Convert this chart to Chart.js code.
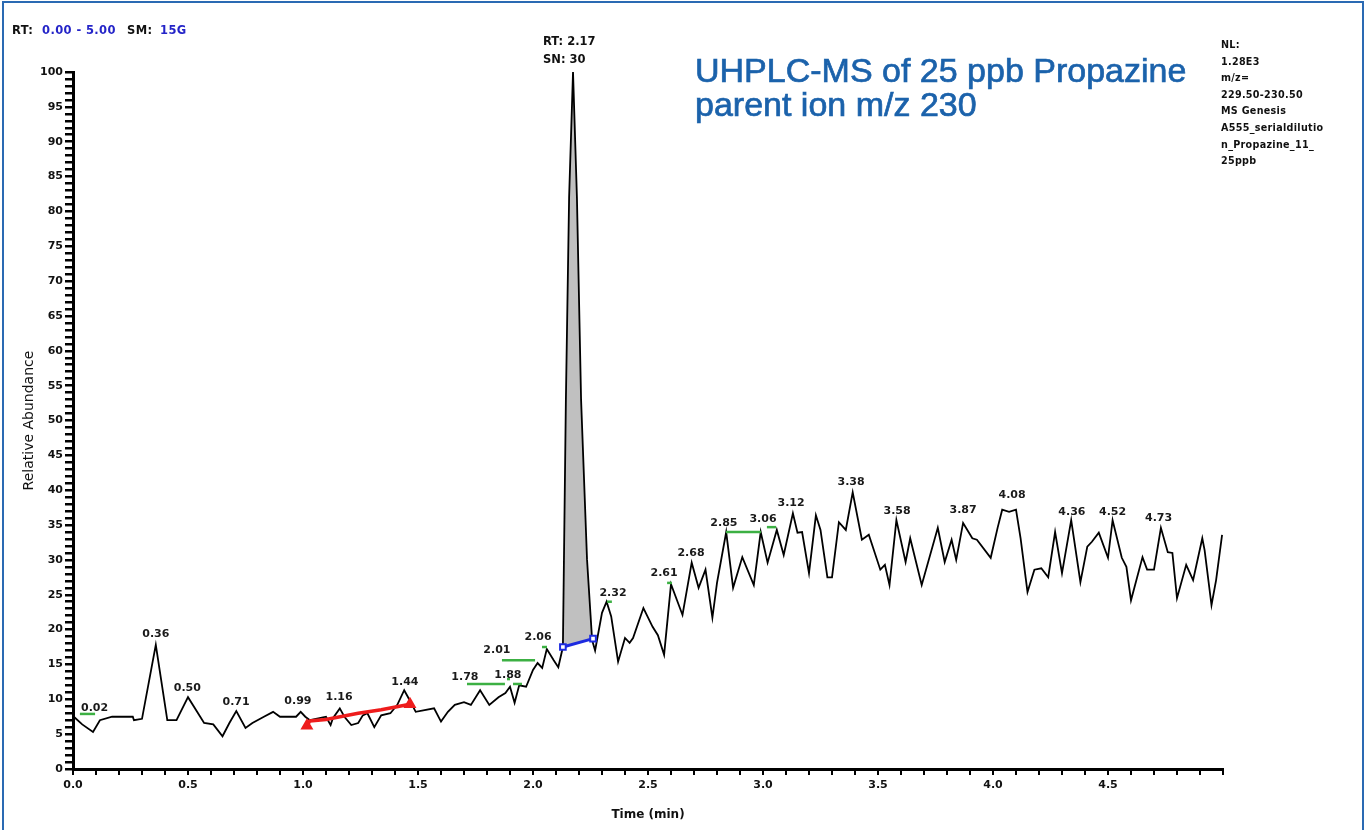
<!DOCTYPE html>
<html lang="en">
<head>
<meta charset="UTF-8">
<title>UHPLC-MS Propazine</title>
<script src="https://cdn.jsdelivr.net/npm/chart.js@4.4.0/dist/chart.umd.min.js"></script>
<style>
  body { margin: 0; background: #fff; }
  #wrap { position: relative; width: 1366px; height: 830px; overflow: hidden; background: #fff; }
  #frame { position: absolute; left: 2px; top: 1px; width: 1358px; height: 860px; border: 2px solid #2a6ab3; }
  .txt { position: absolute; font-family: "DejaVu Sans"; font-weight: bold; font-size: 10px; color: #111; white-space: nowrap; }
  .blu { color: #2424c8; }
  .hdr { top: 23px; font-size: 11.5px; letter-spacing: 0.4px; }
  #nl { left: 1221px; top: 37px; font-size: 9.6px; letter-spacing: 0.3px; line-height: 16.6px; }
  #rt { left: 543px; top: 32px; font-size: 11.5px; line-height: 18px; }
  #title { position: absolute; left: 695px; top: 53px; font-family: "Liberation Sans"; font-size: 34px; line-height: 34px;
           color: #1b62ab; -webkit-text-stroke: 0.7px #1b62ab; white-space: nowrap; }
  canvas { position: absolute; left: 0; top: 0; }
</style>
</head>
<body>
<div id="wrap">
  <canvas id="chart" width="1366" height="830"></canvas>
  <div id="frame"></div>
  <div class="txt hdr" style="left:12px">RT:</div>
  <div class="txt hdr blu" style="left:42px">0.00 - 5.00</div>
  <div class="txt hdr" style="left:127px">SM:</div>
  <div class="txt hdr blu" style="left:160px">15G</div>
  <div class="txt" id="rt">RT: 2.17<br>SN: 30</div>
  <div class="txt" id="nl">NL:<br>1.28E3<br>m/z=<br>229.50-230.50<br>MS Genesis<br>A555_serialdilutio<br>n_Propazine_11_<br>25ppb</div>
  <div id="title">UHPLC-MS of 25 ppb Propazine<br>parent ion m/z 230</div>
</div>

<script>
// ion trace, time (min) / relative abundance
const traceTime = [
  0.00, 0.04, 0.087, 0.117, 0.17, 0.26, 0.265, 0.30, 0.36, 0.41,
  0.45, 0.50, 0.57, 0.61, 0.65, 0.68, 0.71, 0.75, 0.78, 0.83,
  0.87, 0.90, 0.97, 0.99, 1.01, 1.03, 1.10, 1.12, 1.13, 1.16,
  1.18, 1.21, 1.24, 1.26, 1.28, 1.31, 1.34, 1.38, 1.41, 1.44,
  1.47, 1.49, 1.57, 1.60, 1.63, 1.66, 1.70, 1.73, 1.77, 1.81,
  1.85, 1.88, 1.90, 1.92, 1.94, 1.97, 2.00, 2.02, 2.04, 2.06,
  2.09, 2.11, 2.13, 2.143, 2.157, 2.174, 2.191, 2.209, 2.235, 2.257,
  2.27, 2.30, 2.32, 2.34, 2.37, 2.40, 2.42, 2.435, 2.48, 2.52,
  2.543, 2.57, 2.60, 2.65, 2.69, 2.72, 2.75, 2.78, 2.80, 2.84,
  2.87, 2.91, 2.96, 2.99, 3.02, 3.06, 3.09, 3.13, 3.15, 3.17,
  3.20, 3.23, 3.25, 3.28, 3.30, 3.33, 3.36, 3.39, 3.43, 3.46,
  3.51, 3.53, 3.55, 3.58, 3.62, 3.64, 3.69, 3.76, 3.79, 3.82,
  3.84, 3.87, 3.91, 3.93, 3.99, 4.02, 4.04, 4.07, 4.10, 4.12,
  4.15, 4.18, 4.21, 4.24, 4.27, 4.30, 4.34, 4.38, 4.41, 4.43,
  4.46, 4.50, 4.52, 4.56, 4.58, 4.60, 4.65, 4.67, 4.70, 4.73,
  4.76, 4.78, 4.80, 4.84, 4.87, 4.91, 4.92, 4.95, 4.97, 4.996
];
const traceAbund = [
  7.6, 6.4, 5.3, 7.0, 7.5, 7.5, 7.0, 7.2, 17.8, 7.0,
  7.0, 10.3, 6.6, 6.4, 4.7, 6.6, 8.3, 5.9, 6.6, 7.5,
  8.2, 7.5, 7.5, 8.2, 7.5, 7.0, 7.5, 6.3, 7.3, 8.7,
  7.5, 6.3, 6.6, 7.7, 8.0, 6.0, 7.7, 8.0, 9.2, 11.3,
  9.5, 8.2, 8.7, 6.8, 8.2, 9.2, 9.6, 9.2, 11.3, 9.2,
  10.3, 10.9, 11.8, 9.5, 12.0, 11.8, 14.2, 15.2, 14.5, 17.2,
  15.6, 14.6, 17.5, 53, 82, 100, 82, 53, 30, 18.5,
  17.0, 22.4, 24.0, 21.9, 15.4, 18.8, 18.1, 18.8, 23.1, 20.4,
  19.2, 16.4, 26.5, 22.1, 29.6, 26.0, 28.6, 21.7, 26.7, 34.0,
  26.0, 30.4, 26.4, 34.0, 29.6, 34.3, 30.7, 36.7, 33.9, 34.0,
  28.1, 36.4, 34.3, 27.5, 27.5, 35.4, 34.3, 39.7, 32.9, 33.6,
  28.6, 29.3, 26.4, 35.7, 29.7, 33.1, 26.4, 34.6, 29.7, 32.9,
  30.0, 35.3, 33.1, 32.9, 30.3, 34.6, 37.2, 36.9, 37.2, 33.1,
  25.4, 28.6, 28.8, 27.5, 34.0, 28.1, 35.7, 26.8, 31.9, 32.6,
  33.9, 30.3, 35.7, 30.3, 29.0, 24.2, 30.4, 28.6, 28.6, 34.6,
  31.1, 31.0, 24.5, 29.3, 27.1, 33.1, 31.4, 23.5, 27.1, 33.6
];

// peak retention-time labels
const peakLabelText = ['0.02', '0.36', '0.50', '0.71', '0.99', '1.16', '1.44', '1.78', '1.88', '2.01', '2.06', '2.32',
                       '2.61', '2.68', '2.85', '3.06', '3.12', '3.38', '3.58', '3.87', '4.08', '4.36', '4.52', '4.73'];
const peakLabelTime = [0.02, 0.36, 0.497, 0.709, 0.978, 1.157, 1.443, 1.704, 1.891, 1.843, 2.022, 2.348,
                       2.57, 2.687, 2.83, 3.0, 3.122, 3.383, 3.583, 3.87, 4.083, 4.343, 4.52, 4.72];
const peakLabelAbund = [7.3, 17.9, 10.2, 8.2, 8.3, 8.9, 11.0, 11.8, 12.1, 15.6, 17.5, 23.8,
                        26.7, 29.6, 33.9, 34.4, 36.7, 39.7, 35.6, 35.7, 37.9, 35.4, 35.4, 34.6];

// noise / integration baselines
const greenFrom  = [0.03, 1.713, 1.887, 1.913, 1.865, 2.039, 2.322, 2.583, 2.839, 3.017];
const greenTo    = [0.096, 1.878, 1.90, 1.952, 2.009, 2.061, 2.343, 2.604, 2.991, 3.057];
const greenLevel = [7.9, 12.2, 12.9, 12.2, 15.6, 17.5, 24.0, 26.7, 34.0, 34.7];
const redTime  = [1.017, 1.03, 1.10, 1.24, 1.34, 1.465];
const redAbund = [6.2, 6.9, 7.1, 8.0, 8.5, 9.3];
const blueTime  = [2.13, 2.261];
const blueAbund = [17.5, 18.7];

const xTickLabels = ['0.0', '0.5', '1.0', '1.5', '2.0', '2.5', '3.0', '3.5', '4.0', '4.5'];
const yTickLabels = ['0', '5', '10', '15', '20', '25', '30', '35', '40', '45', '50',
                     '55', '60', '65', '70', '75', '80', '85', '90', '95', '100'];

const tickFont = { family: 'DejaVu Sans', weight: 'bold', size: 11 };

const trace = traceTime.map((t, i) => ({ x: t, y: traceAbund[i] }));
const blueLine = blueTime.map((t, i) => ({ x: t, y: blueAbund[i] }));
// area of the main peak, closed by the blue baseline
const peakArea = [blueLine[0]]
  .concat(trace.filter(p => p.x > blueTime[0] && p.x < blueTime[1]))
  .concat([blueLine[1]]);

const datasets = [];
greenFrom.forEach((f, i) => {
  datasets.push({
    data: [{ x: f, y: greenLevel[i] }, { x: greenTo[i], y: greenLevel[i] }],
    borderColor: '#3cb043', borderWidth: 2.5, pointRadius: 0
  });
});
datasets.push({
  data: redTime.map((t, i) => ({ x: t, y: redAbund[i] })),
  borderColor: '#ee1c1c', borderWidth: 3.5,
  pointStyle: 'triangle', backgroundColor: '#ee1c1c', pointBorderColor: '#ee1c1c',
  pointRadius: redTime.map((t, i) => (i === 0 || i === redTime.length - 1) ? 4 : 0)
});
const blueIdx = datasets.length;
datasets.push({
  data: blueLine,
  borderColor: '#1d2be0', borderWidth: 3,
  pointStyle: 'rect', pointRadius: 4, pointBackgroundColor: '#fff',
  pointBorderColor: '#1d2be0', pointBorderWidth: 2
});
datasets.push({
  data: trace, borderColor: '#000', borderWidth: 1.8, pointRadius: 0, clip: 6
});
datasets.push({
  data: peakArea, borderWidth: 0, pointRadius: 0, clip: 6,
  backgroundColor: '#c0c0c0', fill: { target: blueIdx }
});

const peakLabels = {
  id: 'peakLabels',
  afterDatasetsDraw(chart) {
    const ctx = chart.ctx, xs = chart.scales.x, ys = chart.scales.y;
    ctx.save();
    ctx.font = 'bold 11px "DejaVu Sans"';
    ctx.fillStyle = '#1a1a1a';
    ctx.textBaseline = 'middle';
    ctx.textAlign = 'left';
    peakLabelText.forEach((s, i) => {
      const w = ctx.measureText(s).width;
      let x = xs.getPixelForValue(peakLabelTime[i]) - w / 2;
      if (x < chart.chartArea.left + 8) x = chart.chartArea.left + 8;
      const y = ys.getPixelForValue(peakLabelAbund[i]) - 10;
      ctx.fillText(s, x, y);
    });
    ctx.restore();
  }
};

new Chart(document.getElementById('chart').getContext('2d'), {
  type: 'line',
  data: { datasets: datasets },
  plugins: [peakLabels],
  options: {
    responsive: false,
    devicePixelRatio: 1,
    animation: false,
    layout: { padding: { left: 0, top: 72, right: 143, bottom: 0 } },
    plugins: { legend: { display: false }, tooltip: { enabled: false } },
    elements: { line: { tension: 0 } },
    scales: {
      x: {
        type: 'linear', min: 0, max: 5,
        afterFit(scale) { scale.height = 61; },
        border: { display: true, color: '#000', width: 3 },
        grid: { drawOnChartArea: false, drawTicks: true, tickLength: 6, color: '#000', lineWidth: 2 },
        ticks: {
          stepSize: 0.1, autoSkip: false, maxRotation: 0, padding: 4,
          color: '#111', font: tickFont,
          callback: v => {
            const s = (Math.round(v * 10) / 10).toFixed(1);
            return (Math.round(v * 10) % 5 === 0 && xTickLabels.includes(s)) ? s : '';
          }
        },
        title: { display: true, text: 'Time (min)', color: '#111', font: { family: 'DejaVu Sans', weight: 'bold', size: 12 },
                 padding: { top: 0, bottom: 8 } }
      },
      y: {
        min: 0, max: 100,
        afterFit(scale) { scale.width = 73; },
        border: { display: true, color: '#000', width: 3 },
        grid: { drawOnChartArea: false, drawTicks: true, tickLength: 8, color: '#000', lineWidth: 2.5 },
        ticks: {
          stepSize: 1, autoSkip: false, padding: 2,
          color: '#111', font: tickFont,
          callback: v => yTickLabels.includes(String(v)) ? String(v) : ''
        },
        title: { display: true, text: 'Relative Abundance', color: '#111', font: { family: 'DejaVu Sans', size: 14 },
                 padding: { top: 21, bottom: 0 } }
      }
    }
  }
});
</script>
</body>
</html>
